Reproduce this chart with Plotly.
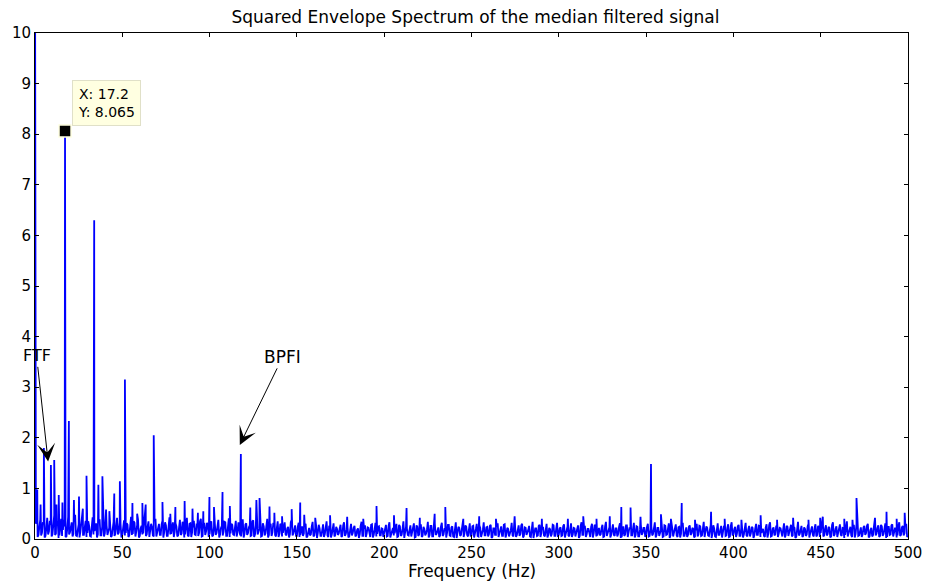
import plotly.graph_objects as go

# ---- data ----
# background noise of the spectrum, one value per Hz from 1 to 500 Hz (in 1/100 units)
noise_001_050 = [45, 8, 38, 12, 30, 6, 42, 15, 28, 9, 47, 11, 35, 7, 40, 18, 25, 5, 44, 13,
                 33, 10, 48, 6, 29, 14, 41, 8, 36, 12, 26, 5, 43, 16, 31, 9, 39, 7, 45, 11,
                 27, 15, 38, 6, 34, 10, 42, 13, 30, 8]
noise_051_100 = [37, 12, 28, 7, 44, 10, 32, 14, 39, 6, 26, 11, 41, 9, 35, 15, 24, 5, 40, 12,
                 30, 8, 36, 13, 27, 6, 43, 10, 33, 14, 25, 7, 38, 11, 29, 9, 42, 5, 31, 13,
                 36, 8, 27, 12, 40, 6, 32, 15, 28, 9]
noise_101_150 = [35, 7, 30, 12, 38, 9, 26, 14, 33, 6, 41, 11, 28, 8, 36, 13, 24, 5, 39, 10,
                 31, 12, 27, 7, 37, 9, 29, 14, 34, 6, 25, 11, 40, 8, 30, 13, 26, 5, 35, 10,
                 28, 12, 33, 7, 24, 9, 38, 11, 27, 6]
noise_151_200 = [32, 8, 25, 11, 30, 5, 22, 9, 34, 7, 27, 12, 21, 6, 29, 10, 35, 4, 24, 9,
                 31, 8, 20, 11, 28, 6, 33, 10, 23, 5, 30, 12, 26, 7, 21, 9, 34, 6, 27, 11,
                 22, 4, 29, 8, 32, 10, 25, 7, 20, 12]
noise_201_250 = [28, 6, 33, 9, 22, 11, 30, 5, 25, 8, 35, 10, 21, 7, 27, 12, 31, 4, 24, 9,
                 29, 6, 20, 11, 34, 8, 26, 5, 30, 10, 23, 7, 32, 9, 21, 12, 28, 6, 25, 4,
                 33, 10, 22, 8, 29, 11, 24, 5, 31, 7]
noise_251_300 = [26, 9, 30, 5, 22, 11, 33, 7, 24, 10, 28, 4, 21, 8, 31, 12, 25, 6, 29, 9,
                 20, 11, 32, 5, 23, 8, 27, 10, 30, 6, 22, 12, 26, 4, 34, 9, 21, 7, 28, 11,
                 24, 5, 30, 8, 19, 10, 27, 6, 32, 9]
noise_301_350 = [23, 7, 29, 11, 25, 5, 31, 9, 21, 12, 27, 6, 33, 8, 24, 10, 20, 4, 30, 11,
                 26, 7, 22, 9, 28, 5, 34, 12, 23, 8, 29, 6, 21, 10, 31, 4, 25, 9, 27, 11,
                 20, 7, 32, 8, 24, 5, 28, 12, 22, 9]
noise_351_400 = [30, 6, 25, 10, 33, 8, 22, 11, 28, 5, 26, 9, 31, 7, 21, 12, 29, 4, 24, 10,
                 32, 6, 23, 8, 27, 11, 20, 5, 30, 9, 25, 7, 34, 12, 22, 6, 28, 10, 21, 4,
                 31, 8, 26, 11, 23, 7, 29, 5, 33, 9]
noise_401_450 = [24, 10, 28, 6, 21, 9, 32, 5, 26, 11, 22, 7, 30, 8, 25, 12, 20, 4, 29, 10,
                 33, 6, 23, 9, 27, 11, 21, 5, 31, 8, 24, 12, 28, 7, 22, 4, 34, 10, 26, 6,
                 20, 9, 30, 11, 25, 5, 29, 8, 23, 12]
noise_451_500 = [31, 7, 27, 10, 22, 5, 33, 9, 25, 12, 29, 6, 21, 8, 35, 11, 24, 4, 28, 10,
                 32, 7, 23, 9, 26, 12, 30, 5, 22, 8, 34, 11, 27, 6, 25, 10, 31, 4, 24, 9,
                 29, 12, 21, 7, 33, 8, 26, 11, 30, 6]

# the same noise read at the half-Hz positions 0.5 ... 499.5 Hz (in 1/100 units)
half_000_049 = [30, 4, 25, 7, 33, 3, 22, 9, 36, 5, 27, 8, 31, 2, 24, 6, 38, 4, 21, 9,
                29, 5, 34, 7, 26, 3, 30, 8, 23, 4, 35, 6, 28, 9, 20, 3, 32, 7, 25, 5,
                37, 8, 22, 4, 30, 6, 27, 9, 33, 3]
half_050_099 = [26, 7, 31, 4, 23, 8, 35, 5, 28, 3, 21, 9, 32, 6, 25, 4, 30, 7, 36, 5,
                22, 8, 29, 3, 33, 6, 24, 9, 27, 4, 31, 5, 20, 8, 34, 3, 26, 7, 30, 4,
                23, 9, 28, 6, 35, 5, 21, 8, 32, 4]
half_100_149 = [28, 5, 24, 8, 31, 3, 22, 7, 34, 6, 26, 4, 30, 9, 21, 5, 33, 7, 25, 3,
                29, 8, 23, 6, 35, 4, 27, 9, 20, 5, 31, 7, 24, 3, 28, 6, 32, 8, 22, 4,
                30, 5, 26, 9, 21, 3, 33, 7, 25, 6]
half_150_199 = [24, 4, 20, 6, 27, 3, 18, 7, 25, 5, 22, 2, 28, 6, 19, 4, 23, 7, 26, 3,
                17, 5, 24, 8, 21, 4, 27, 6, 19, 3, 25, 7, 22, 5, 18, 2, 26, 6, 20, 4,
                23, 8, 28, 3, 19, 5, 24, 7, 21, 4]
half_200_249 = [22, 5, 26, 3, 19, 7, 24, 4, 28, 6, 20, 2, 25, 8, 18, 5, 23, 3, 27, 6,
                21, 4, 24, 7, 19, 3, 26, 5, 22, 8, 17, 4, 25, 6, 20, 3, 28, 7, 23, 5,
                19, 2, 24, 6, 21, 4, 27, 8, 18, 5]
half_250_299 = [25, 3, 20, 6, 27, 4, 18, 7, 23, 5, 26, 2, 21, 8, 24, 4, 19, 6, 28, 3,
                22, 5, 17, 7, 25, 4, 20, 6, 27, 3, 23, 8, 18, 5, 24, 2, 21, 6, 26, 4,
                19, 7, 25, 3, 22, 5, 28, 6, 20, 4]
half_300_349 = [21, 6, 25, 3, 19, 7, 27, 4, 22, 5, 18, 2, 26, 8, 23, 4, 20, 6, 24, 3,
                28, 5, 19, 7, 22, 4, 25, 6, 17, 3, 26, 8, 21, 5, 24, 2, 19, 6, 27, 4,
                23, 7, 20, 3, 25, 5, 18, 8, 22, 4]
half_350_399 = [24, 5, 19, 7, 26, 3, 22, 6, 18, 4, 27, 8, 21, 2, 25, 5, 20, 7, 23, 3,
                28, 6, 19, 4, 24, 8, 22, 3, 17, 5, 26, 6, 21, 4, 25, 7, 20, 2, 27, 5,
                23, 8, 18, 3, 24, 6, 22, 4, 26, 7]
half_400_449 = [20, 4, 25, 6, 22, 3, 27, 7, 19, 5, 24, 2, 21, 8, 26, 4, 18, 6, 23, 3,
                28, 5, 20, 7, 25, 4, 22, 8, 19, 3, 26, 6, 21, 5, 24, 2, 27, 7, 18, 4,
                23, 6, 25, 3, 20, 8, 22, 5, 26, 4]
half_450_499 = [26, 5, 21, 7, 24, 3, 28, 6, 20, 4, 25, 8, 22, 2, 27, 5, 19, 7, 24, 3,
                29, 6, 21, 4, 23, 8, 26, 3, 18, 5, 25, 7, 22, 4, 28, 6, 20, 2, 24, 8,
                27, 5, 21, 3, 25, 6, 23, 7, 26, 4]

# discrete spectral lines (Hz, amplitude)
peak_freqs = [0.0, 1.3, 3.2, 5.1, 9.1, 11.0, 12.3, 13.6, 15.7, 17.2, 19.4, 22.3, 25.2, 27.4,
              29.5, 33.9, 36.3, 38.6, 40.7, 42.6, 45.4, 48.6, 51.5, 55.8, 58.5, 61.5, 63.4,
              68.0, 73.0, 77.5, 80.4, 85.7, 90.2, 93.3, 96.4, 99.9, 102.5, 107.4, 111.6,
              117.9, 123.3, 126.8, 128.6, 134.3, 137.1, 141.5, 147.0, 151.9, 154.2, 160.5,
              169.0, 178.8, 188.0, 195.6, 205.6, 212.8, 220.4, 228.9, 235.0, 245.3, 254.4,
              264.0, 274.7, 290.3, 305.2, 314.0, 321.6, 329.2, 335.8, 341.1, 346.8, 352.8,
              358.5, 364.2, 370.4, 378.0, 387.2, 395.0, 404.6, 415.6, 425.0, 434.2, 443.0,
              449.7, 451.2, 463.5, 468.2, 470.5, 481.1, 487.7, 493.5, 498.1]
peak_vals = [12.0, 0.98, 0.68, 1.80, 1.46, 1.56, 0.68, 0.87, 0.72, 8.065, 2.33, 0.77, 0.84, 0.60,
             1.25, 6.30, 1.07, 1.24, 0.58, 0.55, 0.90, 1.14, 3.15, 0.71, 0.50, 0.71, 0.68,
             2.05, 0.73, 0.50, 0.63, 0.75, 0.60, 0.52, 0.55, 0.83, 0.63, 0.93, 0.65,
             1.68, 0.62, 0.77, 0.81, 0.64, 0.52, 0.45, 0.59, 0.72, 0.48, 0.42,
             0.47, 0.44, 0.40, 0.65, 0.47, 0.61, 0.42, 0.50, 0.63, 0.40, 0.45,
             0.40, 0.45, 0.40, 0.40, 0.45, 0.40, 0.45, 0.63, 0.62, 0.44, 1.48,
             0.49, 0.40, 0.71, 0.38, 0.54, 0.40, 0.38, 0.47, 0.38, 0.42, 0.38,
             0.42, 0.44, 0.40, 0.38, 0.81, 0.42, 0.54, 0.40, 0.52]

tip_x = 17.2
tip_y = 8.065

x_ticks = [0, 50, 100, 150, 200, 250, 300, 350, 400, 450, 500]
y_ticks = [0, 1, 2, 3, 4, 5, 6, 7, 8, 9, 10]

# ---- assemble the spectrum ----
noise = (noise_001_050 + noise_051_100 + noise_101_150 + noise_151_200 + noise_201_250 +
         noise_251_300 + noise_301_350 + noise_351_400 + noise_401_450 + noise_451_500)
half = (half_000_049 + half_050_099 + half_100_149 + half_150_199 + half_200_249 +
        half_250_299 + half_300_349 + half_350_399 + half_400_449 + half_450_499)
pts = [(float(i + 1), v / 100.0) for i, v in enumerate(noise)]
pts += [(i + 0.5, v / 100.0) for i, v in enumerate(half)]
pts += list(zip(peak_freqs, peak_vals))
pts.sort(key=lambda p: p[0])
fx = [p[0] for p in pts]
fy = [p[1] for p in pts]

FONT = "DejaVu Sans"

fig = go.Figure()
fig.add_trace(go.Scatter(x=fx, y=fy, mode="lines",
                         line=dict(color="#0000ff", width=1.8), hoverinfo="skip"))
fig.add_trace(go.Scatter(x=[tip_x], y=[tip_y], mode="markers",
                         marker=dict(symbol="square", size=12, color="black",
                                     line=dict(color="#ffffe1", width=1.5)),
                         hoverinfo="skip", cliponaxis=False))

axis_common = dict(showgrid=False, zeroline=False, showline=True, linecolor="black",
                   linewidth=1, mirror="ticks", ticks="inside", ticklen=4,
                   tickcolor="black", tickfont=dict(family=FONT, size=15, color="black"))

fig.update_xaxes(range=[0, 500], tickvals=x_ticks, **axis_common)
fig.update_yaxes(range=[0, 10], tickvals=y_ticks, **axis_common)

fig.update_layout(
    width=934, height=581,
    margin=dict(l=35, r=18, t=33, b=42),
    paper_bgcolor="white", plot_bgcolor="white",
    showlegend=False,
    title=dict(text="Squared Envelope Spectrum of the median filtered signal",
               x=(35 + 916) / 2 / 934, xanchor="center",
               y=1 - 17 / 581, yanchor="middle", yref="container",
               font=dict(family=FONT, size=17, color="black")),
    annotations=[
        dict(text="Frequency (Hz)", xref="paper", yref="paper", x=0.5, y=-(571 - 539) / 506,
             xanchor="center", yanchor="middle", showarrow=False,
             font=dict(family=FONT, size=17, color="black")),
        dict(text="X: 17.2<br>Y: 8.065", xref="x", yref="y", x=tip_x, y=tip_y,
             xanchor="left", yanchor="bottom", xshift=7, yshift=5, showarrow=False,
             align="left", bgcolor="#ffffe1", bordercolor="#e0e0c8", borderwidth=1,
             borderpad=5, font=dict(family=FONT, size=14, color="black")),
        dict(text="FTF", xref="x", yref="y", x=7.5, y=1.53, axref="x", ayref="y",
             ax=0.9, ay=3.62, showarrow=True, arrowhead=3, arrowsize=3, arrowwidth=1,
             arrowcolor="black", font=dict(family=FONT, size=16, color="black")),
        dict(text="BPFI", xref="x", yref="y", x=117.3, y=1.86, axref="x", ayref="y",
             ax=141.9, ay=3.6, showarrow=True, arrowhead=3, arrowsize=3, arrowwidth=1,
             arrowcolor="black", font=dict(family=FONT, size=17, color="black")),
    ],
)

fig.write_html("out.html")
